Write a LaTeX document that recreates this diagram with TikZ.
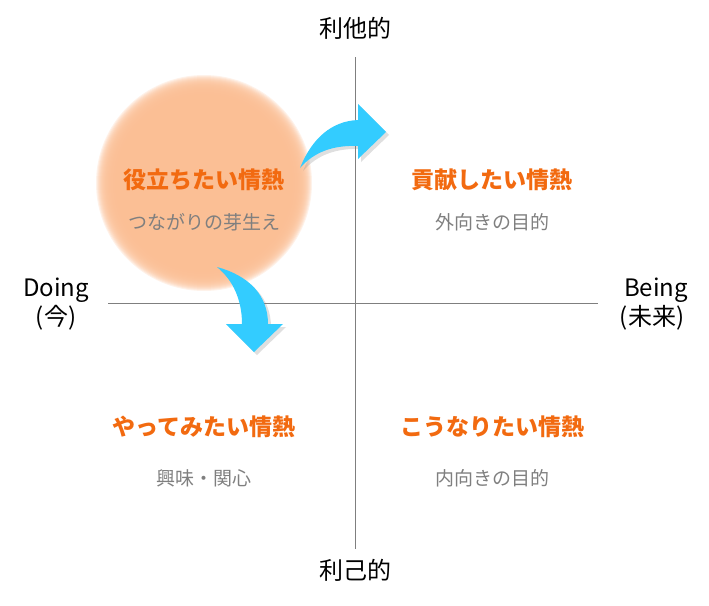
\documentclass[tikz,border=0pt]{standalone}
\usepackage{fontspec}
\setmainfont{Noto Sans CJK JP}
\usetikzlibrary{shadows}
\definecolor{peach}{HTML}{FBBE94}
\definecolor{heat}{HTML}{F26A10}
\definecolor{softgray}{HTML}{7F7F7F}
\definecolor{skyblue}{HTML}{33CCFF}

\begin{document}
\begin{tikzpicture}[x=1pt, y=-1pt,
		axislabel/.style={font=\fontsize{24}{27}\selectfont, text=black},
		passion/.style={font=\fontsize{23}{26}\selectfont\bfseries, text=heat},
		aim/.style={font=\fontsize{19}{22}\selectfont, text=softgray},
		bluearrow/.style={fill=skyblue, draw=none, drop shadow={opacity=0.25, shadow xshift=3pt, shadow yshift=-3pt}}]
			%%%%% START %%%%%
			\useasboundingbox (0, 0) rectangle (709, 605);
			
			% soft disc
			\foreach \r in {0,...,20}
				\fill[peach, opacity=0.2] (204, 183) circle (88+\r);
			
			\coordinate (top) at (355, 57);
			\coordinate (bottom) at (355, 549);
			\coordinate (left) at (108, 303);
			\coordinate (right) at (598, 303);
			\draw[softgray, line width=1pt] (top) -- (bottom);
			\draw[softgray, line width=1pt] (left) -- (right);
			
			\node[axislabel] (altruistic) at (355, 28) {利他的};
			\node[axislabel] (selfish) at (355, 570) {利己的};
			\node[axislabel] (doing) at (56, 290) {Doing};
			\node[axislabel] (now) at (56, 318) {(今)};
			\node[axislabel] (being) at (656, 290) {Being};
			\node[axislabel] (future) at (652, 318) {(未来)};
			
			\node[passion] (useful) at (204, 180) {役立ちたい情熱};
			\node[aim] (bond) at (204, 222) {つながりの芽生え};
			\node[passion] (contribute) at (492, 180) {貢献したい情熱};
			\node[aim] (outward) at (492, 222) {外向きの目的};
			\node[passion] (try) at (204, 427) {やってみたい情熱};
			\node[aim] (interest) at (204, 478) {興味・関心};
			\node[passion] (become) at (492, 427) {こうなりたい情熱};
			\node[aim] (inward) at (492, 478) {内向きの目的};
			
			\fill[bluearrow] (300, 168) .. controls (312, 138) and (332, 121) .. (358, 120)
				-- (358, 104) -- (386, 132) -- (358, 159) -- (358, 146)
				.. controls (333, 145) and (314, 152) .. (300, 168) -- cycle;
			
			\fill[bluearrow] (217, 267) .. controls (250, 276) and (268, 296) .. (268, 324)
				-- (283, 324) -- (254, 352) -- (226, 324) -- (242, 324)
				.. controls (242, 300) and (233, 280) .. (217, 267) -- cycle;
			%%%%% END %%%%%
\end{tikzpicture}
\end{document}
